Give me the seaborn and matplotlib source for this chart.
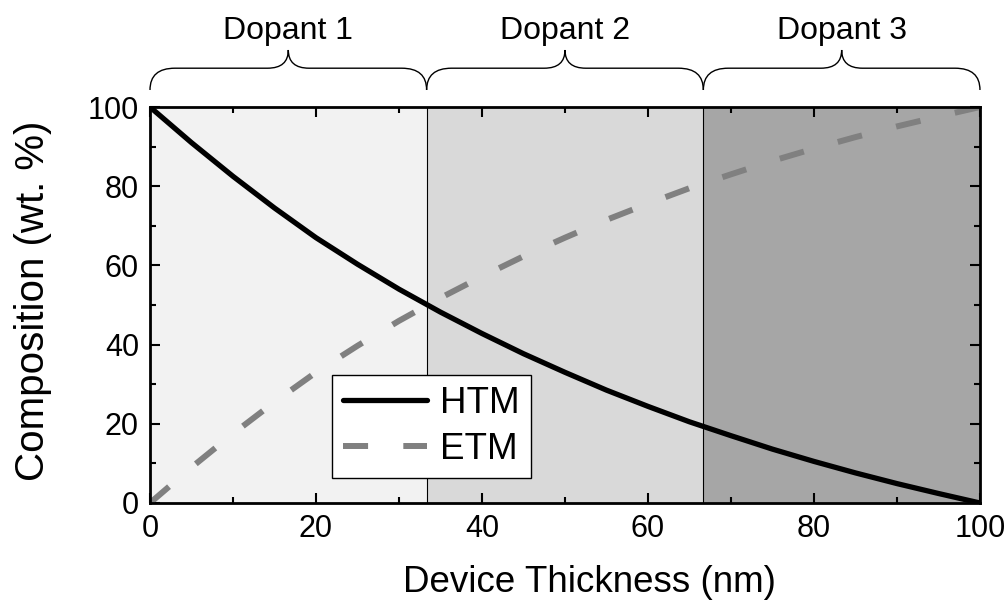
import matplotlib
matplotlib.use("Agg")
import matplotlib.pyplot as plt
from matplotlib.path import Path
from matplotlib.patches import PathPatch
from matplotlib.ticker import MultipleLocator
import pandas as pd
import seaborn as sns

# thickness (nm) and composition (wt. %)
thickness = [0, 5, 10, 15, 20, 25, 30, 35, 40, 45, 50,
             55, 60, 65, 70, 75, 80, 85, 90, 95, 100]
htm = [100, 91, 82.5, 74.5, 67, 60.3, 54, 48.2, 42.8, 37.7, 33,
       28.5, 24.4, 20.5, 17, 13.6, 10.5, 7.6, 4.9, 2.4, 0]
etm = [0, 9, 17.5, 25.5, 33, 39.7, 46, 51.8, 57.2, 62.3, 67,
       71.5, 75.6, 79.5, 83, 86.4, 89.5, 92.4, 95.1, 97.6, 100]

dopants = ["Dopant 1", "Dopant 2", "Dopant 3"]
bounds = [0, 33.33, 66.67, 100]
shades = ["#f2f2f2", "#d9d9d9", "#a6a6a6"]

df = pd.DataFrame({"x": thickness, "HTM": htm, "ETM": etm})

sns.set_theme(style="ticks")
plt.rcParams["font.family"] = ["Liberation Sans", "DejaVu Sans"]
plt.rcParams["text.color"] = "black"
plt.rcParams["axes.labelcolor"] = "black"

fig = plt.figure(figsize=(10.08, 6.08), dpi=100)
ax = fig.add_axes([0.1488, 0.1727, 0.8234, 0.6513])

# shaded dopant zones
for i in range(3):
    ax.axvspan(bounds[i], bounds[i + 1], color=shades[i], lw=0, zorder=0)
for b in bounds[1:3]:
    ax.axvline(b, color="black", lw=0.8, zorder=1)

sns.lineplot(data=df, x="x", y="HTM", ax=ax, color="black", lw=3.8,
             label="HTM", zorder=3)
sns.lineplot(data=df, x="x", y="ETM", ax=ax, color="#808080", lw=4.3,
             label="ETM", zorder=2)
ax.lines[-1].set_dashes((4.2, 5.9))

ax.set_xlim(0, 100)
ax.set_ylim(0, 100)
ax.xaxis.set_major_locator(MultipleLocator(20))
ax.xaxis.set_minor_locator(MultipleLocator(10))
ax.yaxis.set_major_locator(MultipleLocator(20))
ax.yaxis.set_minor_locator(MultipleLocator(10))
ax.tick_params(which="both", direction="in", top=True, right=True,
               width=1.5, labelsize=22, colors="black")
ax.tick_params(which="major", length=7, pad=8)
ax.tick_params(which="minor", length=4)
for s in ax.spines.values():
    s.set_linewidth(2)
    s.set_color("black")

ax.set_xlabel("Device Thickness (nm)", fontsize=26.5)
ax.set_ylabel("Composition (wt. %)", fontsize=29)
ax.xaxis.set_label_coords(0.529, -0.157)
ax.yaxis.set_label_coords(-0.118, 0.51)

leg = ax.legend(loc="lower left", bbox_to_anchor=(0.219, 0.063),
                fontsize=26.5, handlelength=2.3, handletextpad=0.35,
                borderpad=0.3, labelspacing=0.3, fancybox=False,
                framealpha=1, borderaxespad=0)
leg.get_frame().set_edgecolor("black")
leg.get_frame().set_linewidth(1)

# curly braces with dopant labels above the plot
y_end, y_mid, y_tip = 104.3, 109.8, 114.4
for i, name in enumerate(dopants):
    x0, x1 = bounds[i], bounds[i + 1]
    xm = (x0 + x1) / 2
    verts = [(x0, y_end), (x0, y_mid), (x0 + 3, y_mid),
             (xm - 2.5, y_mid), (xm, y_mid), (xm, y_tip),
             (xm, y_mid), (xm + 2.5, y_mid),
             (x1 - 3, y_mid), (x1, y_mid), (x1, y_end)]
    codes = [Path.MOVETO, Path.CURVE3, Path.CURVE3,
             Path.LINETO, Path.CURVE3, Path.CURVE3,
             Path.CURVE3, Path.CURVE3,
             Path.LINETO, Path.CURVE3, Path.CURVE3]
    ax.add_patch(PathPatch(Path(verts, codes), fill=False, lw=1,
                           edgecolor="black", clip_on=False))
    ax.text(xm, 119.2, name, ha="center", va="center", fontsize=23)

fig.savefig("out.png", dpi=100)
